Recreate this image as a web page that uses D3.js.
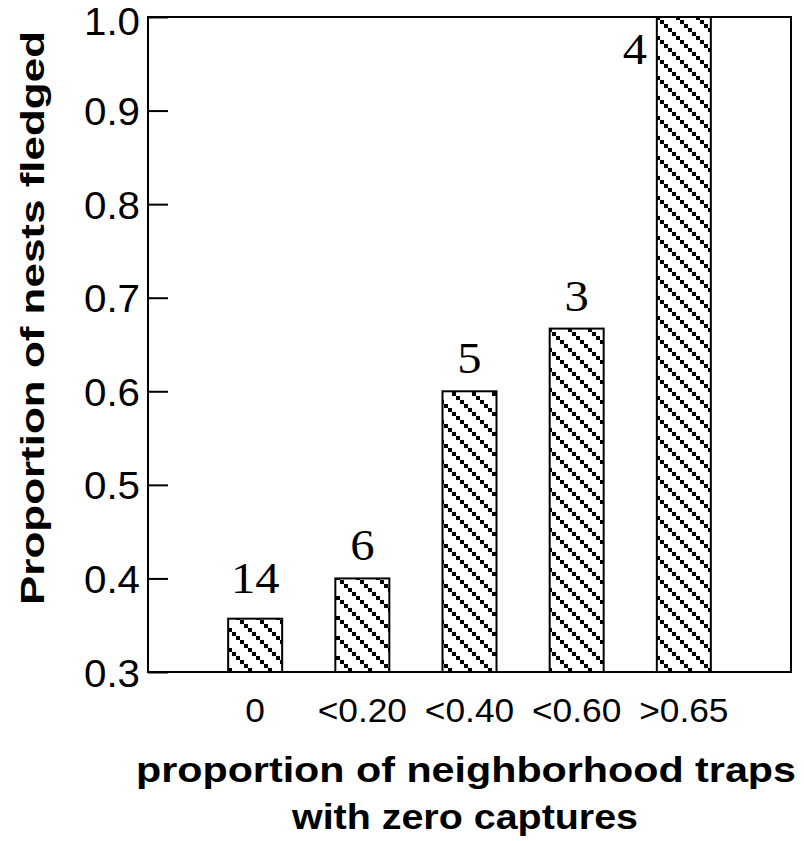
<!DOCTYPE html>
<html><head><meta charset="utf-8">
<script src="https://cdn.jsdelivr.net/npm/d3@7"></script>
<style>body{margin:0;background:#fff}</style>
</head><body>
<script>
const categories = ["0", "<0.20", "<0.40", "<0.60", ">0.65"];
const values = [0.357, 0.4, 0.6, 0.667, 1.0];
const counts = ["14", "6", "5", "3", "4"];
const yTicks = [0.3, 0.4, 0.5, 0.6, 0.7, 0.8, 0.9, 1.0];

const W = 804, H = 841;
const m = {left: 148, right: 791, top: 17, bottom: 672};
const svg = d3.select("body").append("svg").attr("width", W).attr("height", H);
const SANS = "Liberation Sans, Arial, sans-serif";

const defs = svg.append("defs");
const pat = defs.append("pattern").attr("id", "hatch").attr("patternUnits", "userSpaceOnUse")
  .attr("width", 20).attr("height", 20);
pat.append("rect").attr("width", 20).attr("height", 20).attr("fill", "#fff");
[0, 4, 8, 12, 16].forEach(d => {
  pat.append("rect").attr("x", d).attr("y", d).attr("width", 4).attr("height", 4)
    .attr("fill", "#000").attr("shape-rendering", "crispEdges");
});

const x = d3.scaleLinear().domain([0, categories.length + 1]).range([m.left, m.right]);
const y = d3.scaleLinear().domain([0.3, 1.0]).range([m.bottom, m.top]);
const bw = 54;

// bars
svg.selectAll("rect.bar").data(values).enter().append("rect").attr("class", "bar")
  .attr("x", (d, i) => x(i + 1) - bw / 2).attr("width", bw)
  .attr("y", d => y(d)).attr("height", d => y(0.3) - y(d))
  .attr("fill", "url(#hatch)").attr("stroke", "#000").attr("stroke-width", 2);

// frame
svg.append("rect").attr("x", m.left).attr("y", m.top).attr("width", m.right - m.left)
  .attr("height", m.bottom - m.top).attr("fill", "none").attr("stroke", "#000").attr("stroke-width", 2);

// y axis
const yAxis = d3.axisLeft(y).tickValues(yTicks).tickFormat(d3.format(".1f")).tickSizeInner(-20).tickSizeOuter(0).tickPadding(8);
const ya = svg.append("g").attr("transform", `translate(${m.left},0)`).call(yAxis);
ya.select(".domain").remove();
ya.selectAll("line").attr("stroke-width", 2);
ya.selectAll("text").attr("font-family", SANS).attr("font-size", 39)
  .attr("fill", "#000").attr("x", -8).attr("dy", d => d === 1.0 ? "0.44em" : "0.36em")
  .attr("textLength", 56).attr("lengthAdjust", "spacingAndGlyphs");

// x labels
svg.selectAll("text.xl").data(categories).enter().append("text").attr("class", "xl")
  .attr("transform", (d, i) => `translate(${x(i + 1)},722) scale(1.07,1)`)
  .attr("text-anchor", "middle")
  .attr("font-family", SANS).attr("font-size", 33).text(d => d);

// count labels
svg.selectAll("text.cnt").data(counts).enter().append("text").attr("class", "cnt")
  .attr("transform", (d, i) => {
    const cx = i === 4 ? x(i + 1) - 49 : x(i + 1);
    const cy = i === 4 ? 64 : y(values[i]) - (i === 0 ? 26 : 18);
    return `translate(${cx},${cy}) scale(1.08,1)`;
  })
  .attr("text-anchor", "middle")
  .attr("font-family", "Liberation Serif, Times New Roman, serif").attr("font-size", 45).text(d => d);

// axis titles
svg.append("text").attr("x", 466).attr("y", 782).attr("text-anchor", "middle")
  .attr("font-family", SANS).attr("font-weight", "bold").attr("font-size", 35)
  .attr("textLength", 660).attr("lengthAdjust", "spacingAndGlyphs")
  .text("proportion of neighborhood traps");
svg.append("text").attr("x", 465).attr("y", 829).attr("text-anchor", "middle")
  .attr("font-family", SANS).attr("font-weight", "bold").attr("font-size", 35)
  .attr("textLength", 346).attr("lengthAdjust", "spacingAndGlyphs")
  .text("with zero captures");
svg.append("text").attr("transform", "translate(44,318) rotate(-90)").attr("text-anchor", "middle")
  .attr("font-family", SANS).attr("font-weight", "bold").attr("font-size", 34)
  .attr("textLength", 574).attr("lengthAdjust", "spacingAndGlyphs")
  .text("Proportion of nests fledged");
</script>
</body></html>
